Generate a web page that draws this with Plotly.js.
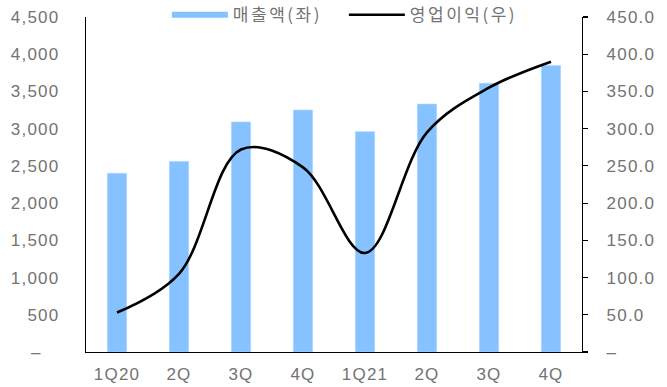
<!DOCTYPE html>
<html>
<head>
<meta charset="utf-8">
<script src="https://cdn.plot.ly/plotly-3.0.1.min.js"></script>
<style>
  html, body { margin: 0; padding: 0; background: #fff; }
  #chart { width: 667px; height: 387px; }
  /* slightly airier tick and legend lettering */
  #chart .xtick text, #chart .ytick text, #chart .y2tick text { letter-spacing: 1.2px; }
  #chart .legendtext { letter-spacing: 2.5px; }
</style>
</head>
<body>
<div id="chart"></div>
<script>
// Quarterly revenue (left axis) and operating profit (right axis)
const quarters = ['1Q20', '2Q', '3Q', '4Q', '1Q21', '2Q', '3Q', '4Q'];
const revenue = [2400, 2560, 3090, 3250, 2960, 3330, 3610, 3850];
const operatingProfit = [53, 105, 272, 248, 133, 295, 355, 390];

const leftTickVals = [0, 500, 1000, 1500, 2000, 2500, 3000, 3500, 4000, 4500];
const leftTickText = ['–\u00a0\u00a0\u00a0', '500', '1,000', '1,500', '2,000', '2,500', '3,000', '3,500', '4,000', '4,500'];
const rightTickVals = [0, 50, 100, 150, 200, 250, 300, 350, 400, 450];
const rightTickText = ['–', '50.0', '100.0', '150.0', '200.0', '250.0', '300.0', '350.0', '400.0', '450.0'];

const revenueName = '매출액(좌)';
const profitName = '영업이익(우)';

const xPos = quarters.map((_, i) => i);
const barColor = '#85c2ff';
const textColor = '#737373';
const tickFont = { family: 'Liberation Sans, Arial, sans-serif', size: 17, color: textColor };

const traces = [
  {
    type: 'bar',
    x: xPos,
    y: revenue,
    name: revenueName,
    width: 0.31,
    marker: { color: barColor, line: { color: '#a9d4ff', width: 0.6 } },
    showlegend: false,
    hoverinfo: 'skip'
  },
  // legend entry for the bars, drawn as a wide flat swatch
  {
    type: 'scatter',
    mode: 'lines',
    x: [null],
    y: [null],
    name: revenueName,
    line: { color: barColor, width: 6 },
    showlegend: true
  },
  {
    type: 'scatter',
    mode: 'lines',
    x: xPos,
    y: operatingProfit,
    name: profitName,
    yaxis: 'y2',
    line: { color: '#000000', width: 2.6, shape: 'spline', smoothing: 1 },
    showlegend: true
  }
];

const layout = {
  width: 667,
  height: 387,
  margin: { l: 86, r: 85, t: 17, b: 35, autoexpand: false },
  paper_bgcolor: '#ffffff',
  plot_bgcolor: '#ffffff',
  showlegend: true,
  legend: {
    orientation: 'h',
    x: 0.163,
    xanchor: 'left',
    y: 1.059,
    yanchor: 'top',
    itemwidth: 56,
    entrywidth: 106,
    traceorder: 'normal',
    bgcolor: 'rgba(0,0,0,0)',
    font: { family: 'Noto Sans CJK KR, sans-serif', size: 17, color: textColor }
  },
  xaxis: {
    range: [-0.5, 7.5],
    tickvals: xPos,
    ticktext: quarters,
    showline: true,
    linecolor: '#000000',
    linewidth: 1.2,
    ticks: '',
    showgrid: false,
    zeroline: false,
    tickfont: tickFont,
    ticklabelstandoff: 6
  },
  yaxis: {
    range: [0, 4500],
    tickvals: leftTickVals,
    ticktext: leftTickText,
    showline: true,
    linecolor: '#000000',
    linewidth: 1.2,
    ticks: '',
    showgrid: false,
    zeroline: false,
    tickfont: tickFont,
    ticklabelstandoff: 22
  },
  yaxis2: {
    range: [0, 450],
    overlaying: 'y',
    side: 'right',
    tickvals: rightTickVals,
    ticktext: rightTickText,
    showline: true,
    linecolor: '#000000',
    linewidth: 1.2,
    ticks: 'outside',
    ticklen: 5,
    tickwidth: 1.2,
    tickcolor: '#000000',
    showgrid: false,
    zeroline: false,
    tickfont: tickFont,
    ticklabelstandoff: 15
  }
};

Plotly.newPlot('chart', traces, layout, { displayModeBar: false, staticPlot: true });
</script>
</body>
</html>
